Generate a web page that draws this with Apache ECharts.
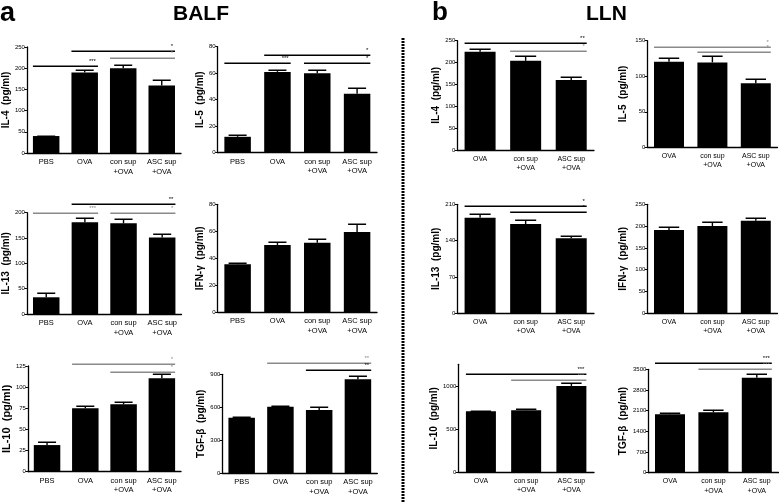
<!DOCTYPE html>
<html><head><meta charset="utf-8">
<script src="https://cdn.jsdelivr.net/npm/echarts@6/dist/echarts.min.js"></script>
<style>html,body{margin:0;padding:0;background:#fff}#c{width:779px;height:503px}</style>
</head><body><div id="c"></div>
<script>
// ---------- categories ----------
const catsBALF = ['PBS', 'OVA', 'con sup\n+OVA', 'ASC sup\n+OVA'];
const catsLLN = ['OVA', 'con sup\n+OVA', 'ASC sup\n+OVA'];

// ---------- BALF values (mean, SEM) ----------
const il4BALF = [40, 190, 200, 159];      const il4BALFErr = [1, 6, 8, 12];
const il5BALF = [12, 61, 60, 44.5];       const il5BALFErr = [1, 1.3, 2.2, 4.5];
const il13BALF = [33, 181, 179, 151];     const il13BALFErr = [9, 8, 9, 6];
const ifngBALF = [35.6, 49.9, 51.6, 59.5]; const ifngBALFErr = [0.7, 2.2, 2.5, 5.7];
const il10BALF = [31.5, 75, 79.7, 110.4]; const il10BALFErr = [3.2, 2.4, 2.3, 4.7];
const tgfbBALF = [506, 606, 576, 854];    const tgfbBALFErr = [6, 6, 24, 30];

// ---------- LLN values (mean, SEM) ----------
const il4LLN = [225, 204, 160];    const il4LLNErr = [7, 11, 8];
const il5LLN = [120.5, 119.5, 90]; const il5LLNErr = [5.5, 9, 5.6];
const il13LLN = [184, 172, 144.5]; const il13LLNErr = [6.7, 8, 4.5];
const ifngLLN = [191, 200, 212];   const ifngLLNErr = [6, 8.7, 6.2];
const il10LLN = [708, 719, 1000];  const il10LLNErr = [7, 8, 35];
const tgfbLLN = [1976, 2044, 3218]; const tgfbLLNErr = [34, 67, 113];

// ---------- y tick labels ----------
const ticksIl4BALF = [0, 50, 100, 150, 200, 250];
const ticksIl5BALF = [0, 20, 40, 60, 80];
const ticksIl13BALF = [0, 50, 100, 150, 200];
const ticksIfngBALF = [0, 20, 40, 60, 80];
const ticksIl10BALF = [0, 25, 50, 75, 100, 125];
const ticksTgfbBALF = [0, 300, 600, 900];
const ticksIl4LLN = [0, 50, 100, 150, 200, 250];
const ticksIl5LLN = [0, 50, 100, 150];
const ticksIl13LLN = [0, 70, 140, 210];
const ticksIfngLLN = [0, 50, 100, 150, 200, 250];
const ticksIl10LLN = [0, 500, 1000];
const ticksTgfbLLN = [0, 700, 1400, 2100, 2800, 3500];

// ---------- significance brackets: [from, to, height, label] ----------
const sigIl4BALF = [[0, 1, 206, '***'], [1, 3, 241, '*'], [2, 3, 225, '*']];
const sigIl5BALF = [[0, 1, 67.5, '***'], [1, 3, 73.7, '*'], [2, 3, 67.9, '*']];
const sigIl13BALF = [[0, 1, 200, '***'], [1, 3, 216.5, '**'], [2, 3, 200, '*']];
const sigIfngBALF = [];
const sigIl10BALF = [[1, 3, 127.4, '*'], [2, 3, 118.3, '*']];
const sigTgfbBALF = [[1, 3, 1005, '**'], [2, 3, 939, '**']];
const sigIl4LLN = [[0, 2, 244, '**'], [1, 2, 227, '*']];
const sigIl5LLN = [[0, 2, 141.5, '*'], [1, 2, 133.7, '*']];
const sigIl13LLN = [[0, 2, 207.3, '*'], [1, 2, 194.6, '*']];
const sigIfngLLN = [];
const sigIl10LLN = [[0, 2, 1143, '***'], [1, 2, 1074, '***']];
const sigTgfbLLN = [[0, 2, 3703, '***'], [1, 2, 3500, '***']];

// ---------- styles of brackets (k = black, g = grey) ----------
const toneIl4BALF = ['k', 'k', 'g'];
const toneIl5BALF = ['k', 'k', 'k'];
const toneIl13BALF = ['g', 'k', 'g'];
const toneIl10BALF = ['g', 'g'];
const toneTgfbBALF = ['g', 'k'];
const toneIl4LLN = ['k', 'g'];
const toneIl5LLN = ['g', 'g'];
const toneIl13LLN = ['k', 'k'];
const toneIl10LLN = ['k', 'g'];
const toneTgfbLLN = ['k', 'g'];

// ---------- panel layout ----------
const FONT = '"Liberation Sans", Arial, sans-serif';
const panels = [
  {cats: catsBALF, v: il4BALF, e: il4BALFErr, t: ticksIl4BALF, s: sigIl4BALF, tone: toneIl4BALF, name: 'IL-4  (pg/ml)', left: 23, width: 158, top: 47, height: 106, bw: 26.5, gap: 13, cf: 7.5},
  {cats: catsBALF, v: il5BALF, e: il5BALFErr, t: ticksIl5BALF, s: sigIl5BALF, tone: toneIl5BALF, name: 'IL-5  (pg/ml)', left: 217.7, width: 159.3, top: 46.7, height: 106, bw: 26.5, gap: 8, cf: 7.5},
  {cats: catsLLN, v: il4LLN, e: il4LLNErr, t: ticksIl4LLN, s: sigIl4LLN, tone: toneIl4LLN, name: 'IL-4  (pg/ml)', left: 457.3, width: 136.7, top: 40.7, height: 109.3, bw: 31, gap: 14, cf: 7},
  {cats: catsLLN, v: il5LLN, e: il5LLNErr, t: ticksIl5LLN, s: sigIl5LLN, tone: toneIl5LLN, name: 'IL-5  (pg/ml)', left: 647.3, width: 130.2, top: 40.7, height: 106.6, bw: 30, gap: 19, cf: 7},
  {cats: catsBALF, v: il13BALF, e: il13BALFErr, t: ticksIl13BALF, s: sigIl13BALF, tone: toneIl13BALF, name: 'IL-13  (pg/ml)', left: 22.7, width: 158.8, top: 212.7, height: 101.3, bw: 26.5, gap: 12, cf: 7.5},
  {cats: catsBALF, v: ifngBALF, e: ifngBALFErr, t: ticksIfngBALF, s: sigIfngBALF, tone: [], name: 'IFN-γ  (pg/ml)', left: 217.7, width: 159.3, top: 204.3, height: 108, bw: 26.5, gap: 11, cf: 7.5},
  {cats: catsLLN, v: il13LLN, e: il13LLNErr, t: ticksIl13LLN, s: sigIl13LLN, tone: toneIl13LLN, name: 'IL-13  (pg/ml)', left: 457.3, width: 136.7, top: 204.3, height: 109, bw: 31, gap: 13, cf: 7},
  {cats: catsLLN, v: ifngLLN, e: ifngLLNErr, t: ticksIfngLLN, s: sigIfngLLN, tone: [], name: 'IFN-γ  (pg/ml)', left: 647.3, width: 130.2, top: 204.3, height: 109, bw: 30, gap: 19, cf: 7},
  {cats: catsBALF, v: il10BALF, e: il10BALFErr, t: ticksIl10BALF, s: sigIl10BALF, tone: toneIl10BALF, name: 'IL-10  (pg/ml)', left: 25, width: 156, top: 366, height: 105.7, bw: 26.5, gap: 15, cf: 7.5, nf: 11},
  {cats: catsBALF, v: tgfbBALF, e: tgfbBALFErr, t: ticksTgfbBALF, s: sigTgfbBALF, tone: toneTgfbBALF, name: 'TGF-β  (pg/ml)', left: 222.3, width: 155, top: 374.3, height: 99, bw: 26.5, gap: 15, cf: 7.5},
  {cats: catsLLN, v: il10LLN, e: il10LLNErr, t: ticksIl10LLN, s: sigIl10LLN, tone: toneIl10LLN, name: 'IL-10  (pg/ml)', left: 458.3, width: 135.7, top: 364.3, height: 108, bw: 30, gap: 15, cf: 7, max: 1250},
  {cats: catsLLN, v: tgfbLLN, e: tgfbLLNErr, t: ticksTgfbLLN, s: sigTgfbLLN, tone: toneTgfbLLN, name: 'TGF-β  (pg/ml)', left: 648.3, width: 130.2, top: 369.3, height: 103.4, bw: 30, gap: 20, cf: 7}
];

function errRender(bw) {
  return function (params, api) {
    const c = api.value(0), m = api.value(1), e = api.value(2);
    const p0 = api.coord([c, m]);
    const p1 = api.coord([c, m + e]);
    const h = bw * 0.34;
    const yc = Math.round(p1[1]) + 0.25;
    return {type: 'group', children: [
      {type: 'line', shape: {x1: p0[0], y1: p0[1], x2: p1[0], y2: yc}, style: {stroke: '#000', lineWidth: 1.4}},
      {type: 'line', shape: {x1: p1[0] - h, y1: yc, x2: p1[0] + h, y2: yc}, style: {stroke: '#000', lineWidth: 1.5}}
    ]};
  };
}
function sigRender(sig, tone, bw) {
  return function (params, api) {
    const i = params.dataIndex;
    const a = api.coord([api.value(0), api.value(2)]);
    const b = api.coord([api.value(1), api.value(2)]);
    const x1 = a[0] - bw / 2, x2 = b[0] + bw / 2, y = Math.round(a[1]) + 0.25;
    const col = tone[i] === 'g' ? '#8a8a8a' : '#000';
    return {type: 'group', children: [
      {type: 'line', shape: {x1: x1, y1: y, x2: x2, y2: y}, style: {stroke: col, lineWidth: 1.5}},
      {type: 'text', x: x2 - 2, y: y - 1.5, style: {text: sig[i][3], fill: col, fontSize: 6, fontFamily: FONT, align: 'right', verticalAlign: 'bottom'}}
    ]};
  };
}

const grid = [], xAxis = [], yAxis = [], series = [];
panels.forEach((p, i) => {
  const mx = p.max != null ? p.max : p.t[p.t.length - 1];
  grid.push({left: p.left, width: p.width, top: p.top, height: p.height, containLabel: false});
  xAxis.push({
    type: 'category', gridIndex: i, data: p.cats,
    axisLine: {lineStyle: {color: '#000', width: 1.3}},
    axisTick: {show: false},
    axisLabel: {interval: 0, fontSize: p.cf, fontFamily: FONT, color: '#000', margin: 4, lineHeight: p.cf + 2.3}
  });
  yAxis.push({
    type: 'value', gridIndex: i, min: 0, max: mx,
    name: p.name, nameLocation: 'middle', nameGap: p.gap,
    nameTextStyle: {fontSize: p.nf || 10, fontWeight: 'bold', fontFamily: FONT, color: '#000'},
    axisLine: {show: true, lineStyle: {color: '#000', width: 1.3}},
    axisTick: {show: true, length: 2.5, lineStyle: {color: '#000', width: 1}, customValues: p.t},
    axisLabel: {fontSize: 6, fontFamily: FONT, color: '#000', margin: 2, customValues: p.t, formatter: v => String(v)},
    splitLine: {show: false}
  });
  series.push({
    type: 'bar', xAxisIndex: i, yAxisIndex: i, data: p.v, barWidth: p.bw,
    itemStyle: {color: '#000'}, silent: true
  });
  series.push({
    type: 'custom', xAxisIndex: i, yAxisIndex: i, z: 5,
    data: p.v.map((m, k) => [k, m, p.e[k]]),
    encode: {x: 0, y: 1},
    renderItem: errRender(p.bw), clip: false
  });
  if (p.s.length) {
    series.push({
      type: 'custom', xAxisIndex: i, yAxisIndex: i, z: 6,
      data: p.s.map(s => [s[0], s[1], s[2]]),
      encode: {x: [0, 1], y: 2},
      renderItem: sigRender(p.s, p.tone, p.bw), clip: false
    });
  }
});

const chart = echarts.init(document.getElementById('c'), null, {renderer: 'canvas'});
chart.setOption({
  animation: false,
  backgroundColor: '#fff',
  grid, xAxis, yAxis, series,
  graphic: [
    {type: 'text', left: 0, top: 0, style: {text: 'a', fontSize: 27, fontWeight: 'bold', fontFamily: FONT, fill: '#000'}},
    {type: 'text', left: 173, top: 4, style: {text: 'BALF', fontSize: 21, fontWeight: 'bold', fontFamily: FONT, fill: '#000'}},
    {type: 'text', left: 432, top: 0, style: {text: 'b', fontSize: 26, fontWeight: 'bold', fontFamily: FONT, fill: '#000'}},
    {type: 'text', left: 586, top: 4, style: {text: 'LLN', fontSize: 21, fontWeight: 'bold', fontFamily: FONT, fill: '#000'}},
    {type: 'line', shape: {x1: 403, y1: 38, x2: 403, y2: 503}, style: {stroke: '#000', lineWidth: 3, lineDash: [2, 1]}}
  ]
});
</script></body></html>
